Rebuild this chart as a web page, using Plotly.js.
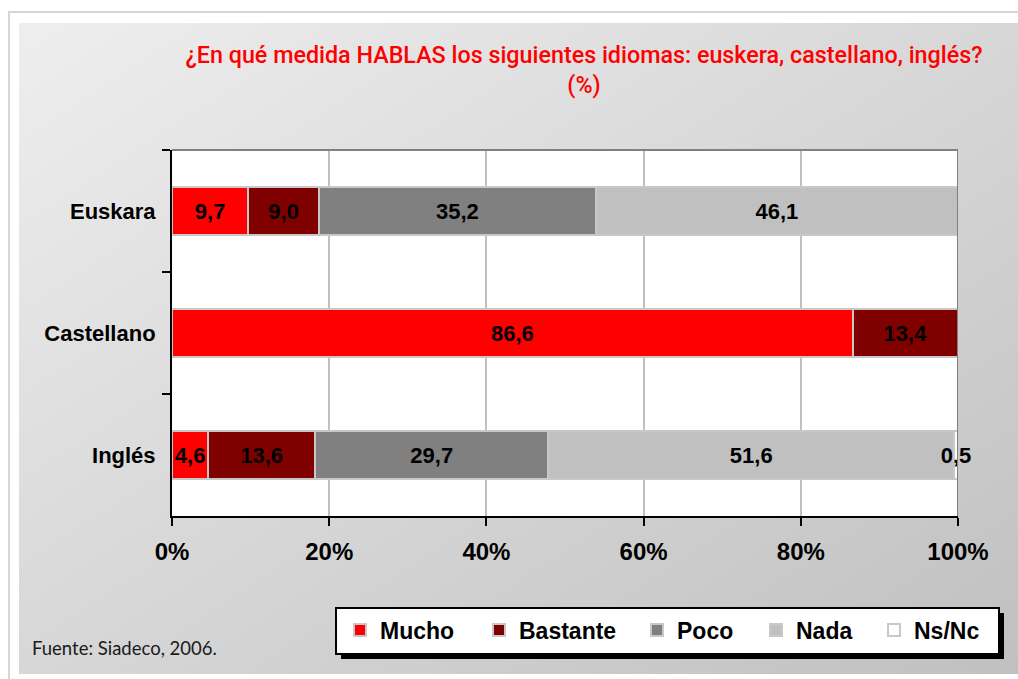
<!DOCTYPE html>
<html><head><meta charset="utf-8">
<script src="https://cdn.plot.ly/plotly-3.0.1.min.js"></script>
<style>
html,body{margin:0;padding:0;background:#fff;width:1018px;height:679px;overflow:hidden;}
#frame{position:absolute;left:8px;top:11px;width:1010px;height:668px;border-left:2px solid #d6d6d6;border-top:2px solid #d6d6d6;box-sizing:border-box;}
#bg{position:absolute;left:19px;top:23px;right:0;bottom:5px;background:linear-gradient(to bottom right,#eeeeee,#c0c0c0);}
#chart{position:absolute;left:0;top:0;width:1018px;height:679px;}
</style></head><body>
<div id="frame"></div><div id="bg"></div><div id="chart"></div>
<script>
// ---- data ----
const categories = ['Euskara', 'Castellano', 'Inglés'];
const mucho    = [9.7, 86.6, 4.6];
const bastante = [9.0, 13.4, 13.6];
const poco     = [35.2, null, 29.7];
const nada     = [46.1, null, 51.6];
const nsnc     = [null, null, 0.5];
const seriesNames = ['Mucho', 'Bastante', 'Poco', 'Nada', 'Ns/Nc'];
const xTickVals = [0, 20, 40, 60, 80, 100];
const xTickText = ['0%', '20%', '40%', '60%', '80%', '100%'];
const titleText = '¿En qué medida HABLAS los siguientes idiomas: euskera, castellano, inglés?<br>(%)';
const sourceText = 'Fuente: Siadeco, 2006.';

// ---- styles ----
const colors = ['#ff0000', '#800000', '#808080', '#c0c0c0', '#ffffff'];
const legendTextX = [380, 519, 677, 796, 914];   // pixel x where each legend label starts
const W = 1018, H = 679, ML = 172, MR = 60, MT = 150, MB = 163;
const PW = W - ML - MR, PH = H - MT - MB;
const px = x => (x - ML) / PW;
const py = y => (H - MB - y) / PH;
const AR = 'Liberation Sans, Arial, sans-serif';

const values = [mucho, bastante, poco, nada, nsnc];
const legendIds = values.map((v, i) => i === 0 ? 'legend' : 'legend' + (i + 1));
const traces = values.map((v, i) => ({
  type: 'bar',
  orientation: 'h',
  name: seriesNames[i],
  legend: legendIds[i],
  y: categories,
  x: v,
  marker: {color: colors[i], line: {color: '#c8c8c8', width: 2}},
  texttemplate: '%{x:.1f}',
  textposition: 'inside',
  insidetextanchor: 'middle',
  constraintext: 'none',
  textangle: 0,
  insidetextfont: {family: AR, size: 22, color: '#000000', weight: 'bold'},
  hoverinfo: 'skip',
  cliponaxis: false
}));

const layout = {
  width: W, height: H,
  margin: {l: ML, r: MR, t: MT, b: MB, pad: 0},
  paper_bgcolor: 'rgba(0,0,0,0)',
  plot_bgcolor: '#ffffff',
  barmode: 'stack',
  bargap: 0.607,
  separators: ',.',
  showlegend: true,
  title: {
    text: titleText,
    x: 584 / W, xanchor: 'center', xref: 'container',
    y: 1 - 63 / H, yanchor: 'top', yref: 'container',
    font: {family: 'Roboto, sans-serif', size: 23.3, color: '#ff0000', weight: 500}
  },
  xaxis: {
    range: [0, 100],
    tickvals: xTickVals,
    ticktext: xTickText,
    ticks: 'outside', ticklen: 8, tickwidth: 2, tickcolor: '#000',
    ticklabelstandoff: 5,
    showline: true, linecolor: '#000', linewidth: 2,
    showgrid: true, gridcolor: '#c0c0c0', gridwidth: 2,
    zeroline: false,
    tickfont: {family: AR, size: 24, color: '#000', weight: 'bold'},
    fixedrange: true
  },
  yaxis: {
    type: 'category',
    autorange: 'reversed',
    tickson: 'boundaries',
    ticks: 'outside', ticklen: 8, tickwidth: 2, tickcolor: '#000',
    ticklabelstandoff: 10,
    showline: true, linecolor: '#000', linewidth: 2,
    showgrid: false, zeroline: false,
    tickfont: {family: AR, size: 22, color: '#000', weight: 'bold'},
    fixedrange: true
  },
  shapes: [
    {type: 'line', xref: 'x', yref: 'paper', x0: 0, x1: 100, y0: 1, y1: 1, line: {color: '#808080', width: 2}},
    {type: 'line', xref: 'x', yref: 'paper', x0: 100, x1: 100, y0: 0, y1: 1, line: {color: '#808080', width: 2}},
    {type: 'rect', xref: 'paper', yref: 'paper', x0: px(341), x1: px(1004), y0: py(613), y1: py(659), fillcolor: '#000', line: {width: 0}},
    {type: 'rect', xref: 'paper', yref: 'paper', x0: px(336), x1: px(999), y0: py(608), y1: py(654), fillcolor: '#fff', line: {color: '#000', width: 2}}
  ],
  annotations: [
    {text: sourceText, xref: 'paper', yref: 'paper', x: px(30), y: py(648), xanchor: 'left', yanchor: 'middle', showarrow: false,
     font: {family: 'Lato, Open Sans, sans-serif', size: 18.5, color: '#1a1a1a'}}
  ]
};
legendIds.forEach((id, i) => {
  layout[id] = {
    orientation: 'h',
    x: px(legendTextX[i] - 40), xanchor: 'left',
    y: py(630), yanchor: 'middle',
    bgcolor: 'rgba(0,0,0,0)', borderwidth: 0,
    font: {family: AR, size: 23, color: '#000', weight: 'bold'}
  };
});

Plotly.newPlot('chart', traces, layout, {displayModeBar: false, staticPlot: true});
</script>
</body></html>
